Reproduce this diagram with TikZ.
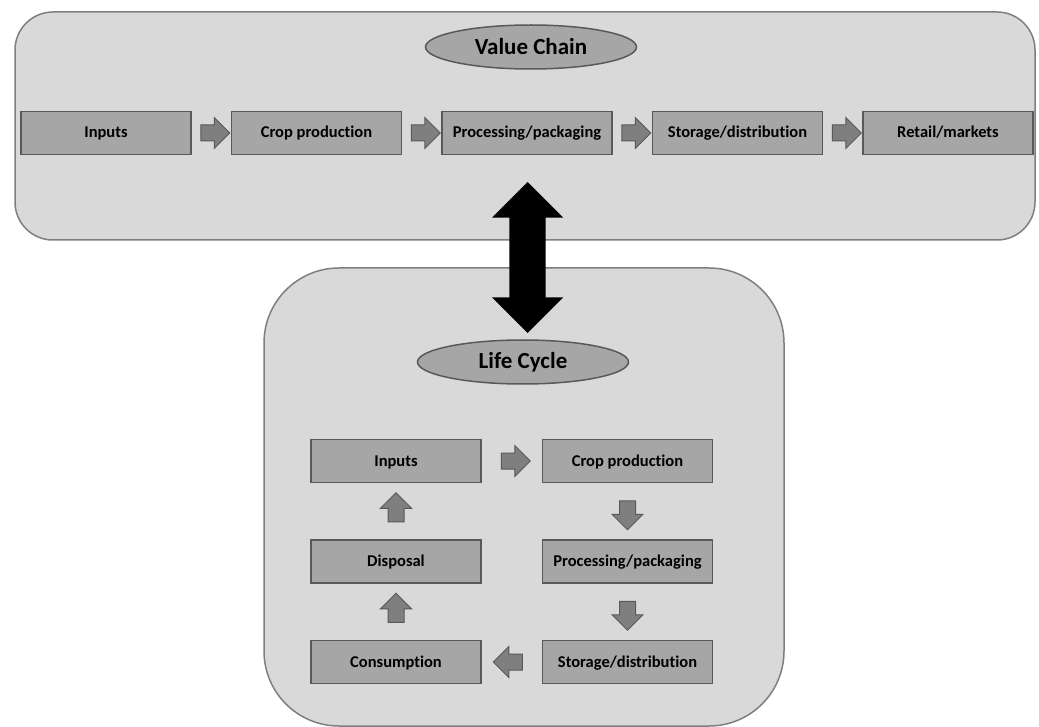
\documentclass[tikz,border=0pt]{standalone}
\usepackage{fontspec}
\setsansfont{Carlito}[Ligatures=NoCommon]
\usepackage{tikz}
\usetikzlibrary{calc,positioning,shapes.geometric,shapes.arrows}
\definecolor{panelfill}{HTML}{D9D9D9}
\definecolor{paneledge}{HTML}{7F7F7F}
\definecolor{stagefill}{HTML}{A6A6A6}
\definecolor{stageedge}{HTML}{595959}
\definecolor{arrowfill}{HTML}{7F7F7F}
\tikzset{
  panel/.style={
    draw=paneledge,
    fill=panelfill,
    line width=1.5pt,
  },
  stage/.style={
    draw=stageedge,
    rectangle,
    minimum width=170pt,
    minimum height=43pt,
    inner sep=0pt,
    text height=12pt,
    text depth=2pt,
    fill=stagefill,
    line width=1.5pt,
    font=\sffamily\bfseries\fontsize{16.5}{18}\selectfont,
  },
  title/.style={
    draw=stageedge,
    ellipse,
    minimum width=211pt,
    minimum height=44pt,
    inner sep=0pt,
    fill=stagefill,
    line width=1.5pt,
    font=\sffamily\bfseries\fontsize{23}{26}\selectfont,
  },
  flowarrow/.style={
    single arrow,
    draw=stageedge,
    fill=arrowfill,
    line width=1pt,
    inner sep=7.5pt,
    minimum height=29pt,
    minimum width=30pt,
    single arrow head extend=7.5pt,
  },
  linkarrow/.style={
    double arrow,
    fill=black,
    inner sep=18pt,
    minimum height=151pt,
    minimum width=71pt,
    double arrow head extend=17.5pt,
    shape border rotate=90,
  },
}
\begin{document}
\begin{tikzpicture}[x=1pt,y=-1pt]
  \useasboundingbox (0,0) rectangle (1039,727);
  % the two panels
  \draw[panel, rounded corners=38pt] (15,12) rectangle (1035,240);
  \draw[panel, rounded corners=75pt] (264,268) rectangle (784,726);
  \node[title] (VC) at (531,47) {Value Chain};
  \node[title] (LC) at (523,362) {Life Cycle};
  % value chain
  \node[stage] (V1) at (106,133) {Inputs};
  \node[stage, right=39pt of V1] (V2) {Crop production};
  \node[stage, right=39pt of V2] (V3) {Processing/packaging};
  \node[stage, right=39pt of V3] (V4) {Storage/distribution};
  \node[stage, right=39pt of V4] (V5) {Retail/markets};
  \foreach \a/\b in {V1/V2,V2/V3,V3/V4,V4/V5}
    \node[flowarrow] (\a\b) at ($(\a.east)!0.5!(\b.west)$) {};
  % life cycle
  \node[stage] (C1) at (396,461) {Inputs};
  \node[stage, right=60pt of C1] (C2) {Crop production};
  \node[stage, below=56pt of C2] (C3) {Processing/packaging};
  \node[stage, below=56pt of C3] (C4) {Storage/distribution};
  \node[stage, left=60pt of C4] (C5) {Consumption};
  \node[stage, above=56pt of C5] (C6) {Disposal};
  \node[flowarrow] (C1C2) at ($(C1.east)!0.5!(C2.west)$) {};
  \node[flowarrow, shape border rotate=270] (C2C3) at ($(C2.south)!0.5!(C3.north)$) {};
  \node[flowarrow, shape border rotate=270] (C3C4) at ($(C3.south)!0.5!(C4.north)$) {};
  \node[flowarrow, shape border rotate=180] (C4C5) at ($(C4.west)!0.5!(C5.east)$) {};
  \node[flowarrow, shape border rotate=90] (C5C6) at ($(C5.north)!0.5!(C6.south)$) {};
  \node[flowarrow, shape border rotate=90] (C6C1) at ($(C6.north)!0.5!(C1.south)$) {};
  % link between the panels
  \node[linkarrow] (link) at (527.5,257.5) {};
\end{tikzpicture}
\end{document}
